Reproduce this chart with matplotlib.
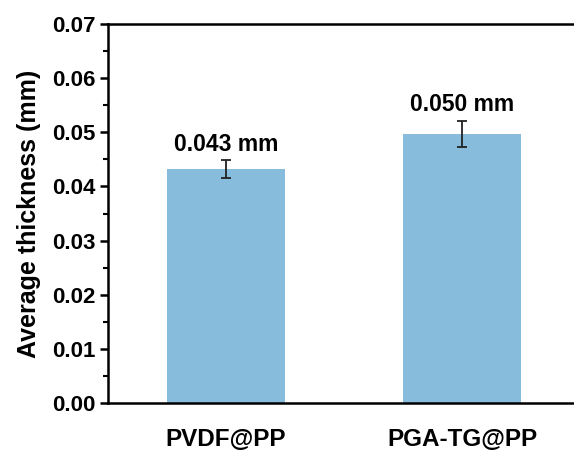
import matplotlib.pyplot as plt
from matplotlib.ticker import MultipleLocator

samples = ["PVDF@PP", "PGA-TG@PP"]
thickness = [0.0432, 0.0497]
thickness_err = [0.0016, 0.0024]
value_labels = ["0.043 mm", "0.050 mm"]

plt.rcParams["font.family"] = ["Liberation Sans", "DejaVu Sans"]
plt.rcParams["font.weight"] = "bold"

fig = plt.figure(figsize=(5.74, 4.53), dpi=100)
ax = fig.add_axes([108 / 574, 50 / 453, 472 / 574, 379 / 453])

x = range(len(samples))
ax.bar(x, thickness, width=0.5, color="#88bcdd", zorder=1)
ax.errorbar(x, thickness, yerr=thickness_err, fmt="none", ecolor="#222222",
            elinewidth=1.3, capsize=3.3, capthick=1.3, zorder=2)

for xi, v, e, lab in zip(x, thickness, thickness_err, value_labels):
    ax.text(xi, v + e + 0.0009, lab, ha="center", va="bottom",
            fontsize=16.5, fontweight="bold")

ax.set_xlim(-0.5, 1.5)
ax.set_ylim(0, 0.07)
ax.yaxis.set_major_locator(MultipleLocator(0.01))
ax.yaxis.set_minor_locator(MultipleLocator(0.005))
ax.set_xticks(list(x))
ax.set_xticklabels(samples, fontsize=17.5, fontweight="bold")
ax.tick_params(axis="x", length=0, pad=18)
ax.tick_params(axis="y", which="major", length=6, width=1.8, labelsize=16, pad=3)
ax.tick_params(axis="y", which="minor", length=3.5, width=1.5)
ax.set_yticklabels([f"{t:.2f}" for t in ax.get_yticks()])
ax.set_ylabel("Average thickness (mm)", fontsize=18, fontweight="bold", labelpad=8)

for side in ["left", "bottom", "top"]:
    ax.spines[side].set_linewidth(1.8)
ax.spines["right"].set_visible(False)

fig.savefig("out.png", dpi=100)
